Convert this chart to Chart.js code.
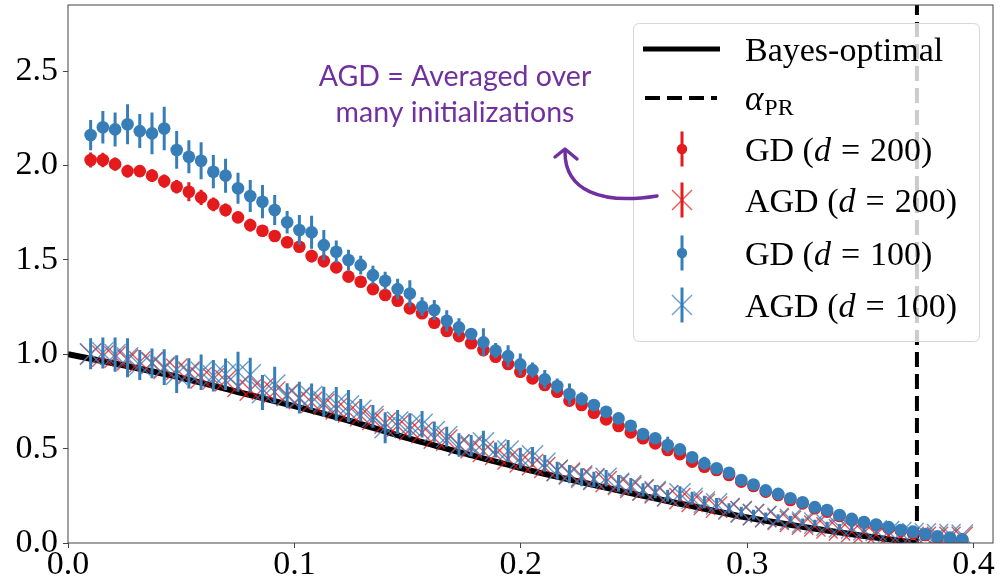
<!DOCTYPE html>
<html><head><meta charset="utf-8">
<script src="https://cdn.jsdelivr.net/npm/chart.js@4.4.1/dist/chart.umd.min.js"></script>
<style>html,body{margin:0;padding:0;background:#fff}#wrap{width:1000px;height:577px;position:relative}</style>
</head><body><div id="wrap"><canvas id="c"></canvas></div>
<script>
// ---------------- data ----------------
const xs = [0.0100,0.0154,0.0208,0.0263,0.0317,0.0371,0.0425,0.0480,0.0534,0.0588,
            0.0642,0.0696,0.0751,0.0805,0.0859,0.0913,0.0968,0.1022,0.1076,0.1130,
            0.1185,0.1239,0.1293,0.1347,0.1401,0.1456,0.1510,0.1564,0.1618,0.1673,
            0.1727,0.1781,0.1835,0.1889,0.1944,0.1998,0.2052,0.2106,0.2161,0.2215,
            0.2269,0.2323,0.2377,0.2432,0.2486,0.2540,0.2594,0.2649,0.2703,0.2757,
            0.2811,0.2865,0.2920,0.2974,0.3028,0.3082,0.3137,0.3191,0.3245,0.3299,
            0.3353,0.3408,0.3462,0.3516,0.3570,0.3625,0.3679,0.3733,0.3787,0.3841,
            0.3896,0.3950];

const gd200 = [2.029,2.029,2.007,1.970,1.970,1.946,1.917,1.887,1.861,1.831,
               1.794,1.764,1.725,1.684,1.654,1.626,1.593,1.569,1.520,1.494,
               1.460,1.411,1.384,1.345,1.314,1.283,1.243,1.217,1.167,1.123,
               1.096,1.058,1.022,0.987,0.948,0.907,0.872,0.837,0.801,0.754,
               0.731,0.690,0.655,0.620,0.586,0.555,0.528,0.493,0.471,0.431,
               0.404,0.387,0.360,0.325,0.302,0.272,0.254,0.228,0.210,0.184,
               0.166,0.143,0.122,0.108,0.095,0.078,0.064,0.051,0.042,0.030,
               0.025,0.016];
const gd200Err = [0.040,0.038,0.035,0.034,0.030,0.034,0.035,0.036,0.050,0.040,
                  0.036,0.035,0.030,0.034,0.030,0.030,0.030,0.030,0.034,0.034,
                  0.030,0.028,0.028,0.026,0.026,0.025,0.025,0.024,0.024,0.023,
                  0.022,0.022,0.021,0.020,0.020,0.020,0.019,0.019,0.018,0.018,
                  0.017,0.017,0.016,0.016,0.015,0.015,0.015,0.014,0.014,0.013,
                  0.013,0.012,0.012,0.012,0.011,0.011,0.010,0.010,0.010,0.009,
                  0.009,0.009,0.008,0.008,0.008,0.007,0.007,0.007,0.006,0.006,
                  0.006,0.005];

const gd100 = [2.161,2.202,2.191,2.218,2.182,2.170,2.196,2.082,2.046,2.025,
               1.967,1.946,1.879,1.838,1.808,1.764,1.699,1.658,1.646,1.578,
               1.543,1.499,1.472,1.419,1.389,1.345,1.322,1.252,1.234,1.177,
               1.142,1.107,1.063,1.019,0.990,0.946,0.916,0.867,0.832,0.789,
               0.763,0.731,0.695,0.660,0.621,0.577,0.555,0.519,0.496,0.454,
               0.422,0.396,0.372,0.334,0.310,0.279,0.260,0.237,0.216,0.190,
               0.175,0.148,0.128,0.111,0.098,0.084,0.069,0.060,0.048,0.035,
               0.029,0.020];
const gd100Err = [0.080,0.086,0.090,0.106,0.090,0.110,0.115,0.100,0.087,0.098,
                  0.088,0.090,0.082,0.085,0.088,0.080,0.060,0.080,0.087,0.080,
                  0.060,0.055,0.050,0.050,0.048,0.055,0.070,0.050,0.053,0.056,
                  0.048,0.030,0.074,0.040,0.058,0.058,0.040,0.050,0.040,0.056,
                  0.035,0.030,0.030,0.030,0.025,0.025,0.025,0.044,0.023,0.025,
                  0.035,0.022,0.020,0.020,0.018,0.018,0.016,0.015,0.015,0.014,
                  0.013,0.012,0.012,0.011,0.010,0.010,0.009,0.009,0.008,0.008,
                  0.007,0.007];

const agd200 = [1.000,0.990,0.985,0.970,0.960,0.955,0.925,0.920,0.905,0.875,
                0.870,0.860,0.830,0.810,0.815,0.800,0.785,0.765,0.745,0.735,
                0.710,0.695,0.675,0.655,0.635,0.620,0.600,0.585,0.555,0.545,
                0.520,0.505,0.485,0.470,0.445,0.430,0.415,0.400,0.385,0.370,
                0.355,0.340,0.325,0.310,0.295,0.280,0.265,0.250,0.235,0.220,
                0.205,0.190,0.180,0.165,0.150,0.140,0.125,0.115,0.100,0.090,
                0.080,0.070,0.060,0.055,0.045,0.040,0.035,0.030,0.030,0.030,
                0.030,0.030];
const agd200Err = [0.022,0.022,0.021,0.021,0.020,0.020,0.020,0.019,0.019,0.019,
                   0.018,0.018,0.018,0.017,0.017,0.017,0.016,0.016,0.016,0.015,
                   0.015,0.015,0.015,0.014,0.014,0.014,0.014,0.013,0.013,0.013,
                   0.013,0.012,0.012,0.012,0.012,0.012,0.011,0.011,0.011,0.011,
                   0.011,0.010,0.010,0.010,0.010,0.010,0.010,0.009,0.009,0.009,
                   0.009,0.009,0.009,0.008,0.008,0.008,0.008,0.008,0.008,0.008,
                   0.007,0.007,0.007,0.007,0.007,0.007,0.007,0.006,0.006,0.006,
                   0.006,0.006];

const agd100 = [1.002,1.007,0.998,0.981,0.943,0.952,0.932,0.894,0.899,0.905,
                0.886,0.894,0.907,0.891,0.797,0.837,0.780,0.770,0.775,0.748,
                0.736,0.726,0.703,0.671,0.611,0.641,0.623,0.629,0.590,0.563,
                0.519,0.515,0.530,0.493,0.487,0.450,0.461,0.422,0.383,0.365,
                0.348,0.337,0.343,0.316,0.304,0.281,0.272,0.251,0.260,0.237,
                0.217,0.207,0.184,0.166,0.150,0.140,0.130,0.125,0.110,0.105,
                0.095,0.085,0.080,0.070,0.065,0.060,0.055,0.050,0.048,0.045,
                0.045,0.042];
const agd100Err = [0.082,0.082,0.091,0.103,0.079,0.079,0.095,0.100,0.080,0.094,
                   0.084,0.084,0.106,0.090,0.093,0.097,0.066,0.084,0.070,0.080,
                   0.090,0.085,0.060,0.060,0.082,0.064,0.064,0.070,0.053,0.053,
                   0.062,0.057,0.064,0.040,0.059,0.055,0.048,0.044,0.048,0.048,
                   0.048,0.040,0.044,0.044,0.040,0.035,0.035,0.031,0.040,0.035,
                   0.033,0.031,0.026,0.026,0.026,0.022,0.022,0.020,0.020,0.018,
                   0.018,0.016,0.016,0.015,0.014,0.013,0.012,0.012,0.011,0.010,
                   0.010,0.010];

const bayesX = [0,0.025,0.05,0.075,0.1,0.125,0.15,0.175,0.2,0.225,0.25,0.275,0.3,0.325,0.35,0.375];
const bayesY = [1.0,0.94,0.875,0.80,0.725,0.645,0.555,0.475,0.397,0.327,0.26,0.197,0.135,0.085,0.04,0.0];

const alphaPR = 0.375;

const xTickValues = [0.0,0.1,0.2,0.3,0.4];
const yTickValues = [0.0,0.5,1.0,1.5,2.0,2.5];

const legendLabels = ['Bayes-optimal','\u03B1','GD (','AGD (','GD (','AGD ('];
const legendSuffix = ['', 'PR', '200)', '200)', '100)', '100)'];
const annotationLines = ['AGD = Averaged over','many initializations'];

// ---------------- helpers ----------------
const RED = '#e41a1c', BLUE = '#377eb8';
const RED_A = 'rgba(228,26,28,0.75)', BLUE_A = 'rgba(55,126,184,0.75)';
const pts = (ys) => xs.map((x,i)=>({x, y: ys[i]}));
const errSegs = (ys, es) => {
  const out = [];
  xs.forEach((x,i)=>{ out.push({x, y: ys[i]-es[i]}, {x, y: ys[i]+es[i]}, {x, y: null}); });
  return out;
};
const errDS = (ys, es, color, order, w) => ({
  type:'line', data: errSegs(ys, es), showLine:true, spanGaps:false,
  borderColor: color, borderWidth: w, pointRadius: 0, borderCapStyle:'butt', order
});

const SERIF = '"Liberation Serif", "DejaVu Serif", serif';

const overlay = {
  id:'overlay',
  afterDatasetsDraw(chart){
    const {ctx, chartArea:a} = chart;
    ctx.save();
    // frame
    ctx.strokeStyle = '#444'; ctx.lineWidth = 1;
    ctx.strokeRect(a.left, a.top, a.right - a.left, a.bottom - a.top);

    // legend box
    const bx = 633.5, by = 23.5, bw = 346, bh = 318, r = 6;
    ctx.beginPath();
    ctx.moveTo(bx + r, by); ctx.lineTo(bx + bw - r, by); ctx.quadraticCurveTo(bx + bw, by, bx + bw, by + r);
    ctx.lineTo(bx + bw, by + bh - r); ctx.quadraticCurveTo(bx + bw, by + bh, bx + bw - r, by + bh);
    ctx.lineTo(bx + r, by + bh); ctx.quadraticCurveTo(bx, by + bh, bx, by + bh - r);
    ctx.lineTo(bx, by + r); ctx.quadraticCurveTo(bx, by, bx + r, by); ctx.closePath();
    ctx.fillStyle = 'rgba(255,255,255,0.8)'; ctx.fill();
    ctx.strokeStyle = '#d6d6d6'; ctx.lineWidth = 1; ctx.stroke();

    const hx = 682, tx = 745;
    const rowsY = [49, 98, 149, 200, 253, 305];
    // Bayes handle
    ctx.strokeStyle = '#000'; ctx.lineWidth = 5; ctx.setLineDash([]);
    ctx.beginPath(); ctx.moveTo(643, rowsY[0]); ctx.lineTo(720, rowsY[0]); ctx.stroke();
    // dashed handle
    ctx.lineWidth = 4; ctx.setLineDash([15,7]);
    ctx.beginPath(); ctx.moveTo(645, rowsY[1]); ctx.lineTo(717, rowsY[1]); ctx.stroke();
    ctx.setLineDash([]);
    // error-bar handles
    const eb = (y, col, type, mcol) => {
      ctx.strokeStyle = col; ctx.lineWidth = 3;
      ctx.beginPath(); ctx.moveTo(hx, y - 17.5); ctx.lineTo(hx, y + 17.5); ctx.stroke();
      if (type === 'dot') {
        ctx.fillStyle = col; ctx.beginPath(); ctx.arc(hx, y, 5.2, 0, Math.PI*2); ctx.fill();
      } else {
        ctx.strokeStyle = mcol; ctx.lineWidth = 1.4; const d = 10;
        ctx.beginPath(); ctx.moveTo(hx-d, y-d); ctx.lineTo(hx+d, y+d); ctx.moveTo(hx-d, y+d); ctx.lineTo(hx+d, y-d); ctx.stroke();
      }
    };
    eb(rowsY[2], RED, 'dot');
    eb(rowsY[3], RED, 'x', RED_A);
    eb(rowsY[4], BLUE, 'dot');
    eb(rowsY[5], BLUE, 'x', BLUE_A);

    // legend text
    ctx.fillStyle = '#000'; ctx.textBaseline = 'alphabetic'; ctx.textAlign = 'left';
    const base = [61, 110, 161, 212, 265, 317];
    ctx.font = '34px ' + SERIF;
    ctx.fillText(legendLabels[0], tx, base[0]);
    ctx.font = 'italic 35px ' + SERIF;
    ctx.fillText(legendLabels[1], tx, base[1]);
    let w = ctx.measureText(legendLabels[1]).width;
    ctx.font = '24px ' + SERIF;
    ctx.fillText(legendSuffix[1], tx + w + 1, base[1] + 5);
    for (let k = 2; k < 6; k++) {
      let x = tx;
      ctx.font = '34px ' + SERIF;
      ctx.fillText(legendLabels[k], x, base[k]); x += ctx.measureText(legendLabels[k]).width;
      ctx.font = 'italic 34px ' + SERIF;
      ctx.fillText('d', x, base[k]); x += ctx.measureText('d').width + 10;
      ctx.font = '34px ' + SERIF;
      ctx.fillText('=', x, base[k]); x += ctx.measureText('=').width + 10;
      ctx.fillText(legendSuffix[k], x, base[k]);
    }

    // annotation
    ctx.fillStyle = '#7030a0'; ctx.textAlign = 'center';
    ctx.font = '28.5px Lato, "Open Sans", sans-serif';
    ctx.fillText(annotationLines[0], 455, 86);
    ctx.fillText(annotationLines[1], 455, 122);
    // arrow
    ctx.strokeStyle = '#7030a0'; ctx.lineWidth = 3.5; ctx.lineCap = 'round'; ctx.lineJoin = 'round';
    ctx.beginPath(); ctx.moveTo(657, 196); ctx.bezierCurveTo(600, 205, 565, 190, 565, 152); ctx.stroke();
    ctx.beginPath(); ctx.moveTo(555, 157); ctx.lineTo(565, 149); ctx.lineTo(577, 159); ctx.stroke();
    ctx.restore();
  }
};

new Chart(document.getElementById('c'), {
  type: 'scatter',
  data: { datasets: [
    { type:'line', data: bayesX.map((x,i)=>({x, y: bayesY[i]})), showLine:true, borderColor:'#000', borderWidth:6,
      pointRadius:0, cubicInterpolationMode:'monotone', order: 20 },
    { type:'line', data: [{x: alphaPR, y: 0}, {x: alphaPR, y: 2.85}], showLine:true, borderColor:'#000', borderWidth:4,
      borderDash:[15,7], pointRadius:0, order: 19 },
    errDS(gd200, gd200Err, RED, 18, 3),
    { data: pts(gd200), pointStyle:'circle', pointRadius:6.3, backgroundColor: RED, borderWidth:0, order: 17 },
    errDS(agd200, agd200Err, RED, 16, 2.5),
    { data: pts(agd200), pointStyle:'crossRot', pointRadius:15, borderColor: RED_A, backgroundColor: RED_A, borderWidth:1.4, order: 15 },
    errDS(gd100, gd100Err, BLUE, 14, 3),
    { data: pts(gd100), pointStyle:'circle', pointRadius:6.3, backgroundColor: BLUE, borderWidth:0, order: 13 },
    errDS(agd100, agd100Err, BLUE, 12, 3),
    { data: pts(agd100), pointStyle:'crossRot', pointRadius:15, borderColor: BLUE_A, backgroundColor: BLUE_A, borderWidth:1.4, order: 11 }
  ]},
  options: {
    responsive: true, maintainAspectRatio: false, animation: false, events: [],
    layout: { padding: { left: 0, right: 7, top: 5, bottom: 0 }, autoPadding: false },
    plugins: { legend: { display: false }, tooltip: { enabled: false } },
    scales: {
      x: {
        type: 'linear', min: 0, max: 0.4086,
        afterFit(s){ s.height = 34; s.paddingLeft = 0; s.paddingRight = 0; s.paddingTop = 0; s.paddingBottom = 0; },
        afterBuildTicks(s){ s.ticks = xTickValues.map(v => ({value: v})); },
        grid: { drawOnChartArea: false, drawTicks: true, tickLength: 5, color: '#444' },
        border: { display: false },
        ticks: { color: '#000', padding: 0, maxRotation: 0, autoSkip: false,
                 font: { family: SERIF, size: 34, lineHeight: 1 },
                 callback: v => Number(v).toFixed(1) }
      },
      y: {
        type: 'linear', min: 0, max: 2.85,
        afterFit(s){ s.width = 68; s.paddingLeft = 0; s.paddingRight = 0; s.paddingTop = 0; s.paddingBottom = 0; },
        afterBuildTicks(s){ s.ticks = yTickValues.map(v => ({value: v})); },
        grid: { drawOnChartArea: false, drawTicks: true, tickLength: 5, color: '#444' },
        border: { display: false },
        ticks: { color: '#000', padding: 5, autoSkip: false,
                 font: { family: SERIF, size: 34, lineHeight: 1 },
                 callback: v => Number(v).toFixed(1) }
      }
    }
  },
  plugins: [overlay]
});
</script>
</body></html>
